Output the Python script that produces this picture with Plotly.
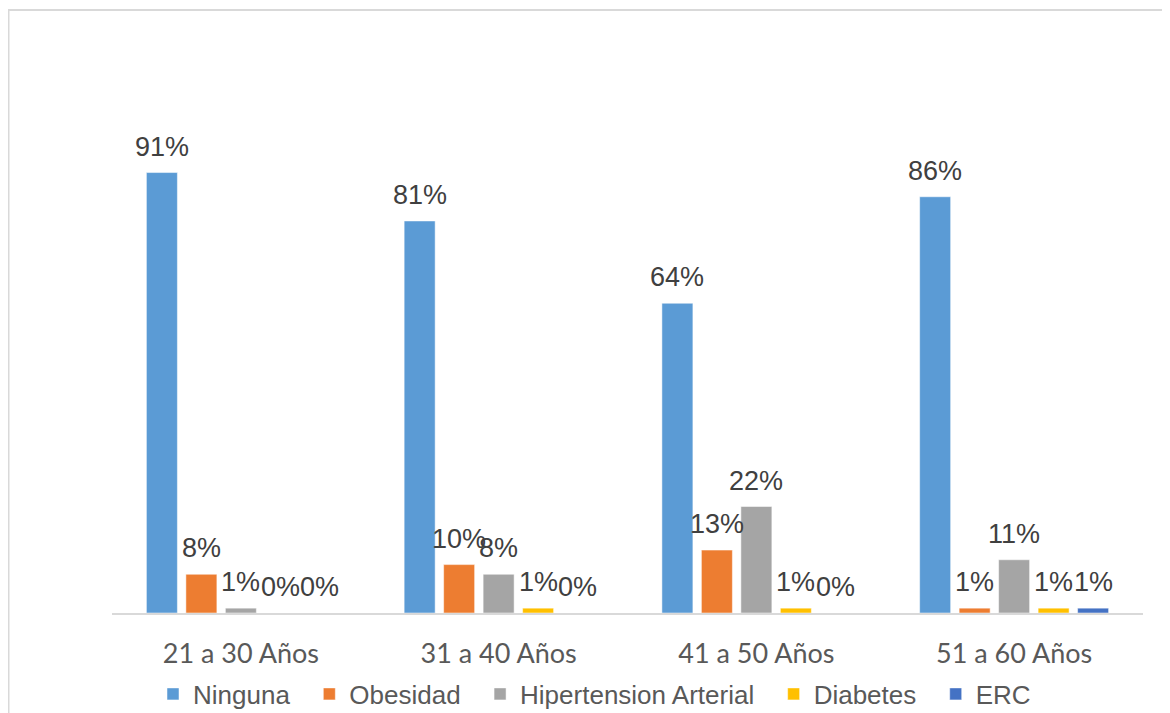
import plotly.graph_objects as go

categories = ["21 a 30 Años", "31 a 40 Años", "41 a 50 Años", "51 a 60 Años"]
series_names = ["Ninguna", "Obesidad", "Hipertension Arterial", "Diabetes", "ERC"]
ninguna = [0.91, 0.81, 0.64, 0.86]
obesidad = [0.08, 0.10, 0.13, 0.01]
hipertension = [0.01, 0.08, 0.22, 0.11]
diabetes = [0.00, 0.01, 0.01, 0.01]
erc = [0.00, 0.00, 0.00, 0.01]
colors = ["#5B9BD5", "#ED7D31", "#A5A5A5", "#FFC000", "#4472C4"]

all_series = [ninguna, obesidad, hipertension, diabetes, erc]

# page body has an 8px margin; figure sized to fit the window
W, H = 1162, 705
ml, mr, mt, mb = 104, 27, 121, 100
plot_w = W - ml - mr
plot_h = H - mt - mb

fig = go.Figure()
for name, vals, col in zip(series_names, all_series, colors):
    fig.add_trace(go.Bar(
        x=categories, y=vals, name=name + "\u00a0\u00a0",
        marker=dict(color=col, line=dict(color="white", width=0.5)),
        hoverinfo="skip",
    ))

# data labels as annotations above each bar
bargap = 0.234
bargroupgap = 0.215
cat_w = plot_w / len(categories)
slot = cat_w * (1 - bargap) / len(series_names)
for i, vals in enumerate(all_series):
    shift = (i - (len(series_names) - 1) / 2) * slot
    for c, v in zip(categories, vals):
        fig.add_annotation(
            x=c, y=v, xref="x", yref="y",
            text=f"{round(v*100)}%", showarrow=False,
            xshift=shift, yanchor="bottom", yshift=9,
            font=dict(family="Liberation Sans, Arial", size=27, color="#404040"),
        )

# outer chart border
x0 = (0.5 - ml) / plot_w
x1 = (W + 5 - ml) / plot_w
y1 = (H - mb - 2) / plot_h
fig.add_shape(type="rect", xref="paper", yref="paper",
              x0=x0, x1=x1, y0=-0.6, y1=y1,
              line=dict(color="#D9D9D9", width=2), layer="below")

fig.update_layout(
    width=W, height=H,
    margin=dict(l=ml, r=mr, t=mt, b=mb, autoexpand=False),
    paper_bgcolor="white", plot_bgcolor="white",
    barmode="group", bargap=bargap, bargroupgap=bargroupgap,
    showlegend=True,
    legend=dict(orientation="h", x=(602 - 8 - ml) / plot_w, xanchor="center",
                yref="container", y=1 - 686 / H, yanchor="middle",
                font=dict(family="Liberation Sans, Arial", size=26, color="#595959"),
                itemclick=False, itemdoubleclick=False),
    xaxis=dict(showline=True, linecolor="#D9D9D9", linewidth=2, automargin=False,
               showgrid=False, ticks="", ticklabelstandoff=16,
               tickfont=dict(family="Lato", size=27, color="#595959")),
    yaxis=dict(range=[0, 1.0], visible=False, showgrid=False, zeroline=False,
               automargin=False),
)

fig.write_html("out.html")
